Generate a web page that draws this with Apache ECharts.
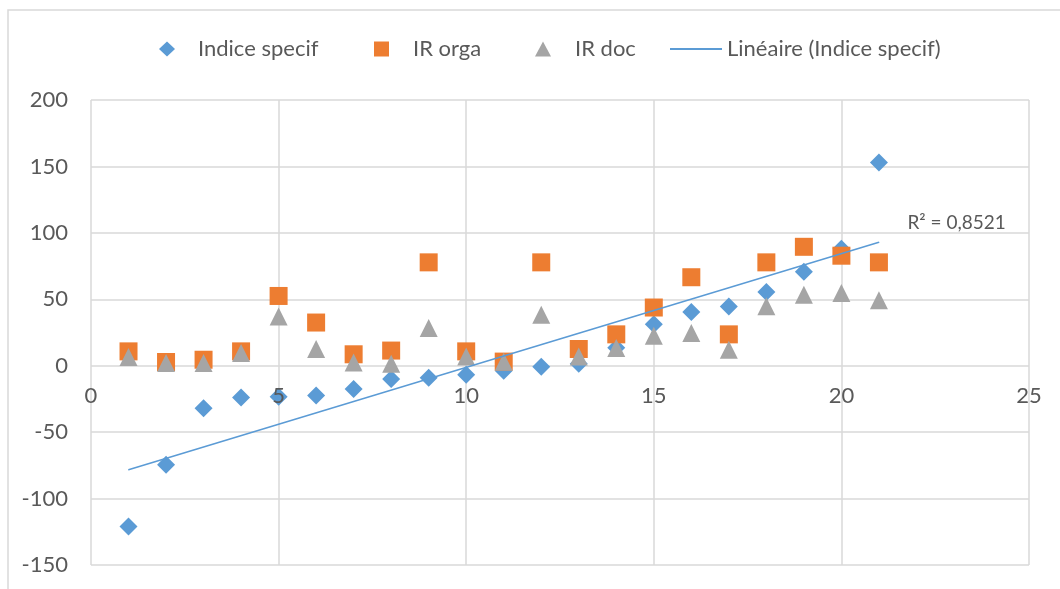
<!DOCTYPE html>
<html>
<head>
<meta charset="utf-8">
<script src="https://cdn.jsdelivr.net/npm/echarts@6/dist/echarts.min.js"></script>
<style>
html,body{margin:0;padding:0;background:#fff;}
#c{width:1060px;height:589px;}
</style>
</head>
<body>
<div id="c"></div>
<script>
const xValues = [1,2,3,4,5,6,7,8,9,10,11,12,13,14,15,16,17,18,19,20,21];
const indiceSpecif = [-121, -74.5, -32, -24, -23.3, -22.5, -17.5, -10, -9, -6.8, -3.8, -0.8, 1.5, 13.6, 31.3, 40.5, 44.5, 55.5, 70.7, 88, 153];
const irOrga = [10.8, 2.8, 4.5, 10.8, 52.5, 32.5, 8.6, 11.4, 77.8, 10.8, 3.1, 77.8, 12.6, 23.6, 43.8, 66.6, 23.6, 77.8, 89.5, 82.8, 77.8];
const irDoc = [6.5, 2, 2, 9.5, 37, 12.6, 2.5, 1.5, 28.4, 7, 3, 38.4, 7, 13.3, 22.6, 24.6, 12, 44.7, 53.5, 54.7, 49.2];
const seriesNames = ['Indice specif', 'IR orga', 'IR doc', 'Linéaire (Indice specif)'];
const r2Text = 'R² = 0,8521';
const xTicks = {min: 0, max: 25, interval: 5};
const yTicks = {min: -150, max: 200, interval: 50};

// least-squares trend of Indice specif
const n = xValues.length;
const mx = xValues.reduce((a,b)=>a+b,0)/n;
const my = indiceSpecif.reduce((a,b)=>a+b,0)/n;
let sxy = 0, sxx = 0;
for (let i = 0; i < n; i++) { sxy += (xValues[i]-mx)*(indiceSpecif[i]-my); sxx += (xValues[i]-mx)*(xValues[i]-mx); }
const slope = sxy/sxx, icpt = my - slope*mx;
const xFirst = xValues[0], xLast = xValues[n-1];
const trend = [[xFirst, icpt + slope*xFirst], [xLast, icpt + slope*xLast]];

const pair = arr => xValues.map((x,i)=>[x, arr[i]]);
const FONT = 'Lato';
const TXT = '#595959';
const GRID = '#d9d9d9';
const C_BLUE = '#5b9bd5', C_ORANGE = '#ed7d31', C_GRAY = '#a5a5a5';

function legendItem(name, left, icon, w, h, gapPad, color) {
  return {
    show: true, left: left, top: 37, orient: 'horizontal',
    padding: 0, itemGap: 0,
    itemWidth: w, itemHeight: h,
    data: [{name: name, icon: icon, itemStyle: {color: color, borderWidth: 0, opacity: 1}}],
    textStyle: {fontFamily: FONT, fontSize: 22, color: TXT, lineHeight: 24, padding: [0,0,0,gapPad]},
    selectedMode: false
  };
}

// plot rectangle
const PH = 589, PLOT_TOP = 100, PLOT_BOTTOM = 24;
const plotHeight = PH - PLOT_TOP - PLOT_BOTTOM;
// height from top of plot down to the y=0 line (where the category axis crosses)
const zeroBandHeight = plotHeight * (yTicks.max - 0) / (yTicks.max - yTicks.min);

const chart = echarts.init(document.getElementById('c'), null, {renderer: 'canvas'});
chart.setOption({
  animation: false,
  backgroundColor: '#fff',
  graphic: [{
    type: 'rect', z: -10, silent: true,
    shape: {x: 8, y: 10, width: 1200, height: 700},
    style: {fill: 'none', stroke: GRID, lineWidth: 1.5}
  }],
  legend: [
    legendItem(seriesNames[0], 159, 'diamond', 16, 15, 18, C_BLUE),
    legendItem(seriesNames[1], 374, 'rect', 15, 15, 19, C_ORANGE),
    legendItem(seriesNames[2], 535, 'triangle', 16, 15, 19, C_GRAY),
    legendItem(seriesNames[3], 670, 'rect', 52, 2, 0, C_BLUE)
  ],
  grid: [
    {left: 91, right: 31, top: PLOT_TOP, bottom: PLOT_BOTTOM, containLabel: false, outerBoundsMode: 'none'},
    {left: 91, right: 31, top: PLOT_TOP, height: zeroBandHeight, containLabel: false, outerBoundsMode: 'none'}
  ],
  xAxis: [{
    gridIndex: 0,
    type: 'value', min: xTicks.min, max: xTicks.max, interval: xTicks.interval,
    axisLine: {show: false, onZero: false},
    axisTick: {show: false},
    axisLabel: {show: false},
    splitLine: {show: true, lineStyle: {color: GRID, width: 1.5}}
  }, {
    gridIndex: 1, z: 10, position: 'bottom',
    type: 'value', min: xTicks.min, max: xTicks.max, interval: xTicks.interval,
    axisLine: {show: false, onZero: false},
    axisTick: {show: false},
    axisLabel: {show: true, margin: 19, fontFamily: FONT, fontSize: 22, color: TXT},
    splitLine: {show: false}
  }],
  yAxis: [{
    gridIndex: 0,
    type: 'value', min: yTicks.min, max: yTicks.max, interval: yTicks.interval,
    axisLine: {show: false},
    axisTick: {show: false},
    axisLabel: {margin: 23, fontFamily: FONT, fontSize: 22, color: TXT},
    splitLine: {show: true, lineStyle: {color: GRID, width: 1.5}}
  }, {
    gridIndex: 1,
    type: 'value', min: 0, max: yTicks.max,
    axisLine: {show: false, onZero: false},
    axisTick: {show: false},
    axisLabel: {show: false},
    splitLine: {show: false}
  }],
  series: [
    {name: seriesNames[0], type: 'scatter', xAxisIndex: 0, yAxisIndex: 0, symbol: 'diamond', symbolSize: 18,
     itemStyle: {color: C_BLUE, opacity: 1}, data: pair(indiceSpecif)},
    {name: seriesNames[1], type: 'scatter', xAxisIndex: 0, yAxisIndex: 0, symbol: 'rect', symbolSize: 18,
     itemStyle: {color: C_ORANGE, opacity: 1}, data: pair(irOrga)},
    {name: seriesNames[2], type: 'scatter', xAxisIndex: 0, yAxisIndex: 0, symbol: 'triangle', symbolSize: 18,
     itemStyle: {color: C_GRAY, opacity: 1}, data: pair(irDoc)},
    {name: seriesNames[3], type: 'line', xAxisIndex: 0, yAxisIndex: 0, symbol: 'circle', symbolSize: 1, showSymbol: true,
     lineStyle: {color: C_BLUE, width: 1.5}, itemStyle: {color: C_BLUE},
     data: [
       {value: trend[0], label: {show: false}},
       {value: trend[1], label: {show: true, position: 'right', distance: 5, offset: [23, -19],
         formatter: r2Text, fontFamily: FONT, fontSize: 19, color: TXT}}
     ]}
  ]
});
</script>
</body>
</html>
